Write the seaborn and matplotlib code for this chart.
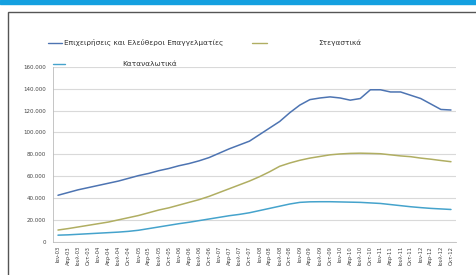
import matplotlib
matplotlib.use("Agg")
import matplotlib.pyplot as plt
import matplotlib.ticker as mticker
from matplotlib.lines import Line2D
from matplotlib.patches import Rectangle
import pandas as pd
import seaborn as sns

# ── Data ──────────────────────────────────────────────────────────────────────

months = ["Ιαν", "Απρ", "Ιουλ", "Οκτ"]
years = [f"{y:02d}" for y in range(3, 13)]
quarters = [f"{m}-{y}" for y in years for m in months]

business = [42.5, 45, 47.5, 49.5, 51.5, 53.5, 55.5, 58, 60.5, 62.5,
            65, 67, 69.5, 71.5, 74, 77, 81, 85, 88.5, 92,
            98, 104, 110, 118, 125, 130, 131.5, 132.5, 131.5, 129.5,
            131, 139, 139, 137, 137, 134, 131, 126, 121, 120.5]
housing = [10.7, 12, 13.5, 15, 16.5, 18, 20, 22, 24, 26.5,
           29, 31, 33.5, 36, 38.5, 41.5, 45, 48.5, 52, 55.5,
           59.5, 64, 69, 72, 74.5, 76.5, 78, 79.5, 80.3, 80.8,
           81, 80.8, 80.5, 79.5, 78.5, 77.8, 76.5, 75.5, 74.3, 73.2]
consumer = [6, 6.3, 6.8, 7.3, 7.8, 8.3, 8.8, 9.5, 10.5, 12,
            13.5, 15, 16.5, 17.8, 19.3, 20.8, 22.3, 23.8, 25, 26.5,
            28.5, 30.5, 32.5, 34.5, 36, 36.5, 36.6, 36.6, 36.4, 36.2,
            36, 35.5, 35, 34, 33, 32, 31.2, 30.5, 30, 29.5]

series_names = ["Επιχειρήσεις και Ελεύθεροι Επαγγελματίες", "Στεγαστικά", "Καταναλωτικά"]
colors = ["#4d74b2", "#b0ae62", "#45a3cc"]

df = pd.DataFrame({
    "idx": list(range(len(quarters))) * 3,
    "value": [v * 1000 for v in business + housing + consumer],
    "series": sum([[n] * len(quarters) for n in series_names], []),
})

# ── Plot ──────────────────────────────────────────────────────────────────────

sns.set_theme(style="white")
plt.rcParams["font.family"] = ["DejaVu Sans"]

fig = plt.figure(figsize=(4.77, 2.75), dpi=100)
fig.patch.set_facecolor("white")
ax = fig.add_axes([0.111, 0.121, 0.845, 0.636])

sns.lineplot(data=df, x="idx", y="value", hue="series", palette=colors,
             hue_order=series_names, linewidth=1.1, legend=False, ax=ax)

ax.set_xlim(-0.5, len(quarters) - 0.5)
ax.set_ylim(0, 160000)
ax.yaxis.set_major_locator(mticker.MultipleLocator(20000))
ax.yaxis.set_major_formatter(mticker.FuncFormatter(lambda v, _: f"{int(v):,}".replace(",", ".")))
ax.set_xticks(range(len(quarters)))
ax.set_xticklabels(quarters, rotation=90, fontsize=3.8, color="#444")
ax.tick_params(axis="y", labelsize=4, colors="#444", length=0, pad=5)
ax.tick_params(axis="x", length=0, pad=3)
ax.set_xlabel("")
ax.set_ylabel("")
ax.grid(axis="y", color="#d9d9d9", linewidth=0.8)
for side in ["top", "right"]:
    ax.spines[side].set_visible(False)
ax.spines["left"].set_color("#bbbbbb")
ax.spines["bottom"].set_color("#bbbbbb")
ax.spines["left"].set_linewidth(0.6)
ax.spines["bottom"].set_linewidth(0.6)

# legend, laid out like the original spreadsheet chart
legend_rows = [(48, 62, 64, 43), (252, 267, 318, 43), (53, 65, 122, 64)]
for (x0, x1, tx, ty), name, c in zip(legend_rows, series_names, colors):
    yf = 1 - ty / 275
    fig.add_artist(Line2D([x0 / 477, x1 / 477], [yf, yf], color=c, linewidth=1.0))
    fig.text(tx / 477, yf, name, fontsize=5.3, color="#333", va="center", ha="left")

# page decoration: blue banner and frame
fig.add_artist(Rectangle((0, 1 - 4 / 275), 1, 4 / 275, transform=fig.transFigure,
                         color="#14a0e0", zorder=0))
frame_top = 1 - 12 / 275
fig.add_artist(Rectangle((8 / 477, -0.1), 1.1, frame_top + 0.1, transform=fig.transFigure,
                         fill=False, edgecolor="#555555", linewidth=1.0))

fig.savefig("out.png", dpi=100, facecolor="white")
plt.close(fig)
